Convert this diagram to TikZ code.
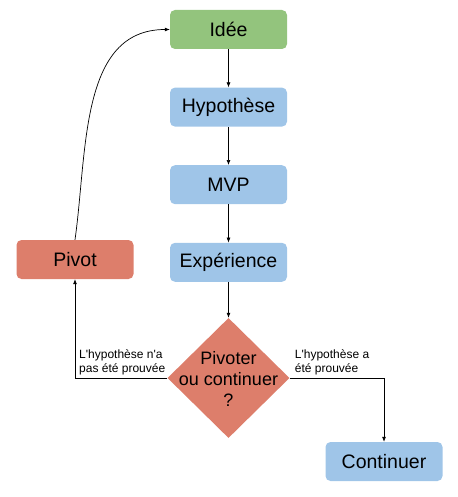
\documentclass[tikz,border=0pt]{standalone}
\usepackage{fontspec}
\setmainfont{Liberation Sans}
\usepackage{tikz}
\usetikzlibrary{positioning}
\usetikzlibrary{arrows.meta,shapes}
\usetikzlibrary{calc}

\definecolor{ideegreen}{HTML}{93C47D}
\definecolor{stepblue}{HTML}{9FC5E8}
\definecolor{pivotred}{HTML}{DD7E6B}

\begin{document}
\begin{tikzpicture}[x=1pt, y=-1pt,
  box/.style={rounded corners=5pt, minimum width=117pt, minimum height=39pt, inner sep=0pt, font=\fontsize{19.5}{23}\selectfont},
  decision/.style={diamond, fill=pivotred, minimum width=122pt, minimum height=120pt, inner sep=0pt},
  lbl/.style={align=left, inner sep=0pt, font=\fontsize{12}{14}\selectfont},
  arr/.style={-{Latex[length=5pt,width=4pt]}, line width=0.7pt}]

  \useasboundingbox (0,0) rectangle (457,497);

	\def\cx{228.5};
	\def\dy{77.6};
	% main chain
	\node[box, fill=ideegreen] (idee) at (\cx, 29.5) {Idée};
	\node[box, fill=stepblue] (hyp) at (\cx, 29.5+\dy) {Hypothèse};
	\node[box, fill=stepblue] (mvp) at (\cx, 29.5+2*\dy) {MVP};
	\node[box, fill=stepblue] (exp) at (\cx, 29.5+3*\dy) {Expérience};

	% decision
	\node[decision] (dec) at (\cx, 378) {};
	\node[align=center, inner sep=0pt, font=\fontsize{18}{21}\selectfont] (decText) at (\cx, 379) {Pivoter\\ou continuer\\?};

	\node[box, fill=pivotred] (pivot) at (75, 259.5) {Pivot};
	\node[box, fill=stepblue] (cont) at (384, 461.5) {Continuer};

	\draw[arr] (idee) -- (hyp);
	\draw[arr] (hyp) -- (mvp);
	\draw[arr] (mvp) -- (exp);
	\draw[arr] (exp) -- (dec);
	\draw[arr] (dec.west) -| (pivot.south);
	\draw[arr] (dec.east) -| (cont.north);
	\draw[arr] (pivot.north) to[out=82, in=180] (idee.west);

	% labels
	\node[lbl, anchor=south west] (noLbl) at ($(pivot.south |- dec.west)+(4,-3)$) {L\textquotesingle hypothèse n\textquotesingle a\\pas été prouvée};
	\node[lbl, anchor=south west] (yesLbl) at ($(dec.east)+(5,-3)$) {L\textquotesingle hypothèse a\\été prouvée};

\end{tikzpicture}
\end{document}
